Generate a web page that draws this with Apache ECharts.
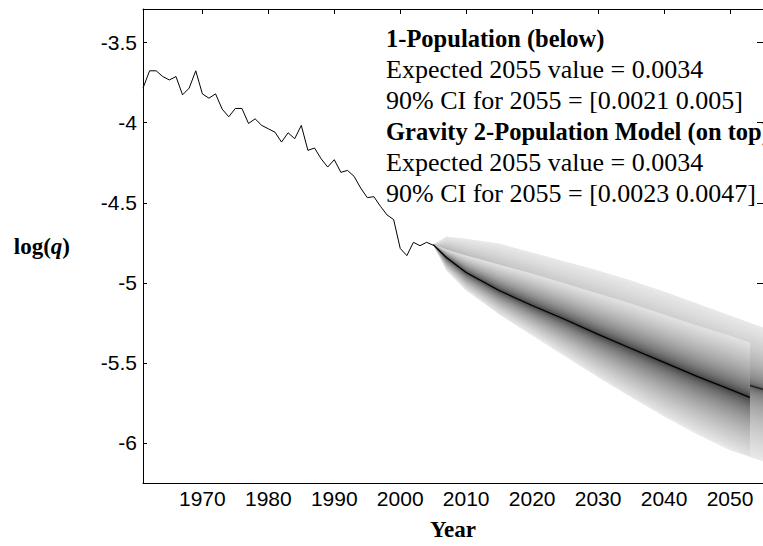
<!DOCTYPE html>
<html>
<head>
<meta charset="utf-8">
<script src="https://cdn.jsdelivr.net/npm/echarts@6/dist/echarts.min.js"></script>
<style>html,body{margin:0;padding:0;background:#fff}#c{width:763px;height:546px}</style>
</head>
<body>
<div id="c"></div>
<script>
// ---- data ----
var histYears = [1961,1962,1963,1964,1965,1966,1967,1968,1969,1970,
  1971,1972,1973,1974,1975,1976,1977,1978,1979,1980,
  1981,1982,1983,1984,1985,1986,1987,1988,1989,1990,
  1991,1992,1993,1994,1995,1996,1997,1998,1999,2000,
  2001,2002,2003,2004,2005];
var histLogQ = [-3.784,-3.676,-3.676,-3.712,-3.733,-3.712,-3.826,-3.784,-3.676,-3.820,
  -3.847,-3.820,-3.915,-3.963,-3.911,-3.911,-4.005,-3.976,-4.017,-4.038,
  -4.059,-4.121,-4.063,-4.100,-4.017,-4.173,-4.158,-4.225,-4.277,-4.231,
  -4.310,-4.298,-4.335,-4.408,-4.468,-4.462,-4.522,-4.576,-4.605,-4.785,
  -4.830,-4.747,-4.768,-4.747,-4.765];

// 1-Population forecast fan (drawn below)
var onePopYears  = [2005,2007,2010,2015,2020,2025,2030,2035,2040,2045,2050,2055];
var onePopUpper  = [-4.761,-4.711,-4.724,-4.755,-4.811,-4.867,-4.923,-4.986,-5.054,-5.129,-5.204,-5.279];
var onePopMedian = [-4.761,-4.842,-4.917,-5.029,-5.117,-5.204,-5.291,-5.378,-5.460,-5.534,-5.603,-5.665];
var onePopLower  = [-4.761,-4.923,-5.048,-5.198,-5.329,-5.460,-5.590,-5.715,-5.834,-5.946,-6.046,-6.114];

// Gravity 2-Population forecast fan (drawn on top)
var gravYears  = [2005,2007,2010,2015,2020,2025,2030,2035,2040,2045,2050,2053];
var gravUpper  = [-4.761,-4.792,-4.830,-4.886,-4.942,-5.004,-5.067,-5.129,-5.198,-5.266,-5.329,-5.372];
var gravMedian = [-4.761,-4.842,-4.936,-5.048,-5.142,-5.229,-5.322,-5.410,-5.497,-5.584,-5.665,-5.715];
var gravLower  = [-4.761,-4.917,-5.042,-5.191,-5.316,-5.447,-5.578,-5.703,-5.821,-5.927,-6.027,-6.083];

var xTicks = [1970,1980,1990,2000,2010,2020,2030,2040,2050];
var yTicks = [-6,-5.5,-5,-4.5,-4,-3.5];

var noteLines = [
  {text: '1-Population (below)', bold: true},
  {text: 'Expected 2055 value = 0.0034', bold: false},
  {text: '90% CI for 2055 = [0.0021 0.005]', bold: false},
  {text: 'Gravity 2-Population Model (on top)', bold: true},
  {text: 'Expected 2055 value = 0.0034', bold: false},
  {text: '90% CI for 2055 = [0.0023 0.0047]', bold: false}
];

// ---- drawing ----
function pairs(xs, ys) { var o = []; for (var i = 0; i < xs.length; i++) o.push([xs[i], ys[i]]); return o; }

function fanRender(years, up, med, low, shade, n) {
  return function (params, api) {
    var children = [];
    for (var k = n; k >= 1; k--) {
      var f = k / n;
      var pts = [];
      for (var j = 0; j < years.length; j++) pts.push(api.coord([years[j], med[j] + (up[j] - med[j]) * f]));
      for (var j2 = years.length - 1; j2 >= 0; j2--) pts.push(api.coord([years[j2], med[j2] + (low[j2] - med[j2]) * f]));
      var g = Math.round(shade(f));
      children.push({type: 'polygon', silent: true, shape: {points: pts},
        style: {fill: 'rgb(' + g + ',' + g + ',' + g + ')', stroke: null}});
    }
    return {type: 'group', children: children};
  };
}
var shadeA = function (t) { return 40 + 192 * Math.pow(t, 0.35); };
var shadeB = function (t) { return 35 + 190 * Math.pow(t, 0.5); };

var sans = '"Liberation Sans", Arial, Helvetica, sans-serif';
var serif = '"Liberation Serif", "Times New Roman", serif';

var graphics = noteLines.map(function (l, i) {
  return {type: 'text', x: 386, y: 38 + 31 * i, z: 100,
    style: {text: l.text, fill: '#000', font: (l.bold ? 'bold 24.5px ' : '26px ') + serif,
      align: 'left', verticalAlign: 'middle'}};
});

var axisLineStyle = {lineStyle: {color: '#000', width: 1}};
var chart = echarts.init(document.getElementById('c'), null, {renderer: 'svg'});
chart.setOption({
  animation: false,
  backgroundColor: '#fff',
  grid: {left: 143, top: 9, right: -1, bottom: 62, containLabel: false},
  xAxis: [{
    type: 'value', min: 1961, max: 2055, position: 'bottom',
    axisLine: axisLineStyle, axisTick: {show: false}, splitLine: {show: false},
    axisLabel: {customValues: xTicks, color: '#000', fontFamily: sans, fontSize: 21, margin: 5,
      formatter: function (v) { return String(v); }},
    name: 'Year', nameLocation: 'middle', nameGap: 35,
    nameTextStyle: {fontFamily: serif, fontWeight: 'bold', fontSize: 23, color: '#000'}
  }, {
    type: 'value', min: 1961, max: 2055, position: 'top',
    axisLine: axisLineStyle, splitLine: {show: false},
    axisTick: {show: true, inside: true, length: 5, customValues: xTicks, lineStyle: {color: '#000'}},
    axisLabel: {show: false}
  }],
  yAxis: [{
    type: 'value', min: -6.25, max: -3.29, position: 'left',
    axisLine: axisLineStyle, splitLine: {show: false},
    axisTick: {show: true, inside: true, length: 4, customValues: yTicks, lineStyle: {color: '#000'}},
    axisLabel: {customValues: yTicks, color: '#000', fontFamily: sans, fontSize: 21, margin: 6,
      formatter: function (v) { return String(v); }},
    name: '{b|log(}{i|q}{b|)}', nameLocation: 'middle', nameRotate: 0, nameGap: 73,
    nameTextStyle: {rich: {
      b: {fontFamily: serif, fontWeight: 'bold', fontSize: 23, color: '#000'},
      i: {fontFamily: serif, fontWeight: 'bold', fontStyle: 'italic', fontSize: 23, color: '#000'}}}
  }, {
    type: 'value', min: -6.25, max: -3.29, position: 'right',
    axisLine: axisLineStyle, splitLine: {show: false},
    axisTick: {show: true, inside: true, length: 6, customValues: yTicks, lineStyle: {color: '#000'}},
    axisLabel: {show: false}
  }],
  graphic: graphics,
  series: [
    {type: 'custom', name: '1-Population', z: 2, clip: true, xAxisIndex: 0, yAxisIndex: 0,
      data: [[onePopYears[0], onePopMedian[0]]],
      renderItem: fanRender(onePopYears, onePopUpper, onePopMedian, onePopLower, shadeA, 30)},
    {type: 'line', name: '1-Population median', z: 3, showSymbol: false, xAxisIndex: 0, yAxisIndex: 0,
      data: pairs(onePopYears, onePopMedian), lineStyle: {color: '#1a1a1a', width: 1.2}},
    {type: 'custom', name: 'Gravity 2-Population', z: 4, clip: true, xAxisIndex: 0, yAxisIndex: 0,
      data: [[gravYears[0], gravMedian[0]]],
      renderItem: fanRender(gravYears, gravUpper, gravMedian, gravLower, shadeB, 30)},
    {type: 'line', name: 'Gravity median', z: 5, showSymbol: false, xAxisIndex: 0, yAxisIndex: 0,
      data: pairs(gravYears, gravMedian), lineStyle: {color: '#000', width: 1.2}},
    {type: 'line', name: 'Observed', z: 6, showSymbol: false, xAxisIndex: 0, yAxisIndex: 0,
      data: pairs(histYears, histLogQ), lineStyle: {color: '#000', width: 1}}
  ]
});
</script>
</body>
</html>
